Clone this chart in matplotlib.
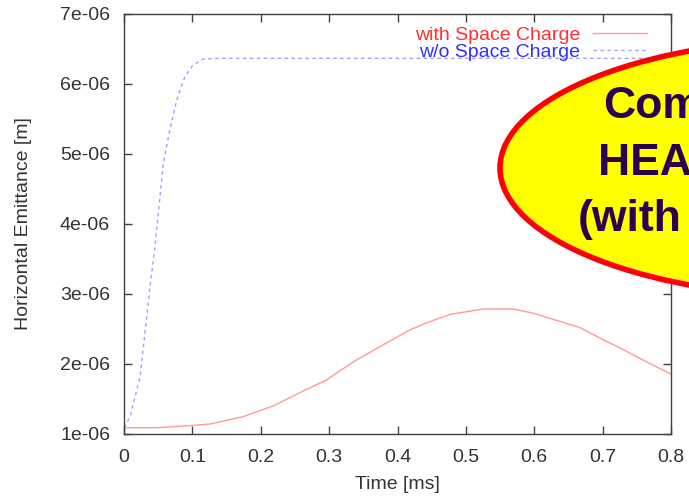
import matplotlib
matplotlib.use("Agg")
import matplotlib.pyplot as plt
from matplotlib.patches import Ellipse

plt.rcParams['font.family'] = ['Liberation Sans', 'DejaVu Sans']

# with space charge (red solid)
t_sc = [0.0, 0.048, 0.0965, 0.126, 0.174, 0.218, 0.262, 0.296, 0.316, 0.340,
        0.374, 0.418, 0.443, 0.477, 0.526, 0.569, 0.599, 0.667, 0.706, 0.720,
        0.759, 0.800]
eps_sc = [1.09e-6, 1.09e-6, 1.12e-6, 1.143e-6, 1.247e-6, 1.40e-6, 1.614e-6,
          1.77e-6, 1.905e-6, 2.057e-6, 2.247e-6, 2.486e-6, 2.59e-6, 2.71e-6,
          2.786e-6, 2.786e-6, 2.724e-6, 2.52e-6, 2.32e-6, 2.257e-6, 2.057e-6,
          1.857e-6]

# without space charge (blue dotted)
t_nosc = [0.0, 0.0088, 0.0234, 0.038, 0.045, 0.0575, 0.067, 0.077, 0.089,
          0.101, 0.116, 0.14, 0.3, 0.5, 0.8]
eps_nosc = [1.09e-6, 1.247e-6, 1.81e-6, 3.10e-6, 3.65e-6, 4.867e-6, 5.343e-6,
            5.771e-6, 6.104e-6, 6.271e-6, 6.357e-6, 6.367e-6, 6.367e-6,
            6.367e-6, 6.367e-6]

xticks = [0, 0.1, 0.2, 0.3, 0.4, 0.5, 0.6, 0.7, 0.8]
xtick_labels = ['0', '0.1', '0.2', '0.3', '0.4', '0.5', '0.6', '0.7', '0.8']
yticks = [1e-6, 2e-6, 3e-6, 4e-6, 5e-6, 6e-6, 7e-6]
ytick_labels = ['1e-06', '2e-06', '3e-06', '4e-06', '5e-06', '6e-06', '7e-06']

bubble_lines = ['Com', 'HEA', '(with']

txt = '#333333'
fs = 14
fig = plt.figure(figsize=(6.89, 4.96), dpi=100)
ax = fig.add_axes([124 / 689, 62 / 496, 547 / 689, 420 / 496])

ax.plot(t_sc, eps_sc, color='#ff9a9a', lw=1.0, label='with Space Charge')
ax.plot(t_nosc, eps_nosc, color='#a0a0ff', lw=1.0, ls=(0, (2.5, 2.5)),
        label='w/o Space Charge')

ax.set_xlim(0, 0.8)
ax.set_ylim(1e-6, 7e-6)
ax.set_xticks(xticks)
ax.set_xticklabels(xtick_labels)
ax.set_yticks(yticks)
ax.set_yticklabels(ytick_labels)
ax.tick_params(direction='in', length=6, width=1, colors='#404040',
               labelcolor=txt, labelsize=fs, top=True, right=True)
ax.tick_params(axis='y', pad=10)
ax.tick_params(axis='x', pad=11)
for s in ax.spines.values():
    s.set_color('#404040')
    s.set_linewidth(1)

ax.set_xlabel('Time [ms]', fontsize=fs, color=txt, labelpad=7)
ax.set_ylabel('Horizontal Emittance [m]', fontsize=fs, color=txt, labelpad=20)

# gnuplot style key: right aligned text, sample after it
leg = ax.legend(loc='upper right', frameon=False, fontsize=fs,
                markerfirst=False, handlelength=2.8, handletextpad=0.65,
                labelspacing=0.0, borderpad=0, borderaxespad=0,
                bbox_to_anchor=(647 / 689, (496 - 26) / 496),
                bbox_transform=fig.transFigure)
leg.get_texts()[0].set_color('#ff3030')
leg.get_texts()[1].set_color('#3030ff')

# callout bubble, running off the right edge
ell = Ellipse((835 / 689, 328 / 496), 670 / 689, 260 / 496,
              transform=fig.transFigure, facecolor='#ffff00',
              edgecolor='#ff0000', lw=4, zorder=10, clip_on=False)
fig.add_artist(ell)
ys = [118, 175, 231]
xs = [603, 598, 578]
for s, x, y in zip(bubble_lines, xs, ys):
    fig.text(x / 689, (496 - y) / 496, s, fontsize=32, fontweight='bold',
             color='#2a004f', ha='left', va='baseline', zorder=11)

fig.savefig('out.png', dpi=100)
